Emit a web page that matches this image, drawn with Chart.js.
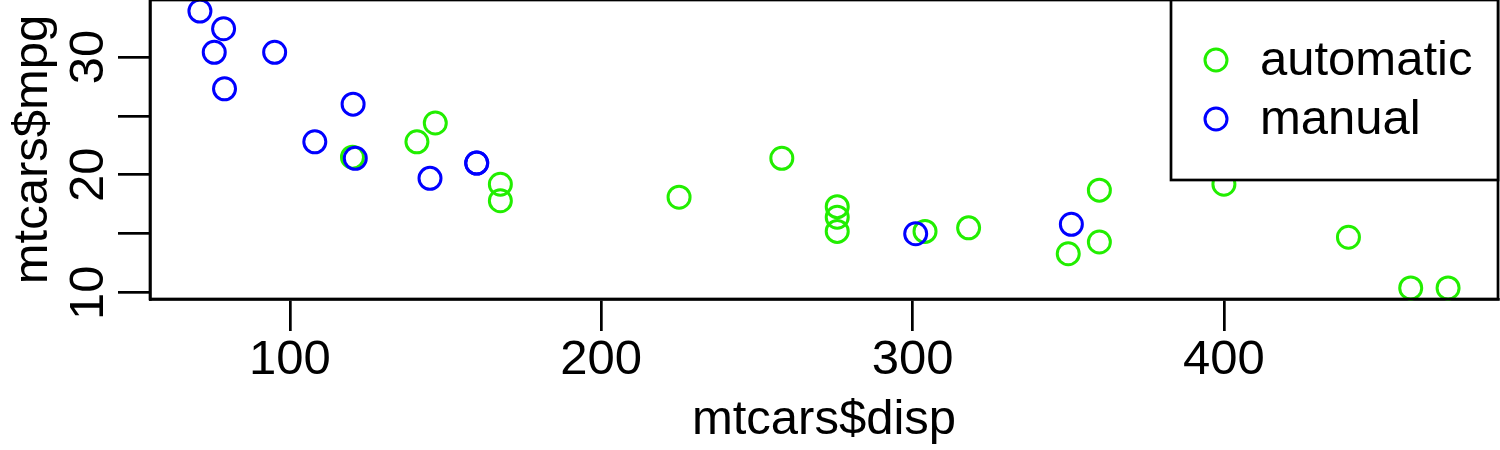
<!DOCTYPE html>
<html><head><meta charset="utf-8">
<script src="https://cdn.jsdelivr.net/npm/chart.js@4/dist/chart.umd.min.js"></script>
<style>html,body{margin:0;padding:0;background:#fff}canvas{display:block}</style>
</head><body>
<canvas id="c" width="1500" height="450"></canvas>
<script>
// ---- data (mtcars: disp vs mpg, split by transmission) ----
const seriesNames = ['automatic', 'manual'];
const autoDisp = [258, 360, 225, 360, 146.7, 140.8, 167.6, 167.6, 275.8, 275.8, 275.8, 472, 460, 440, 120.1, 318, 304, 350, 400];
const autoMpg  = [21.4, 18.7, 18.1, 14.3, 24.4, 22.8, 19.2, 17.8, 16.4, 17.3, 15.2, 10.4, 10.4, 14.7, 21.5, 15.5, 15.2, 13.3, 19.2];
const manDisp  = [160, 160, 108, 78.7, 75.7, 71.1, 79, 120.3, 95.1, 351, 145, 301, 121];
const manMpg   = [21, 21, 22.8, 32.4, 30.4, 33.9, 27.3, 26, 30.4, 15.8, 19.7, 15, 21.4];
const xTicks = [100, 200, 300, 400];
const yTicks = [10, 15, 20, 25, 30];
const yTickLabels = ['10', '', '20', '', '30'];
const xTitle = 'mtcars$disp';
const yTitle = 'mtcars$mpg';

// ---- styles ----
const GREEN = '#22ee00';
const BLUE = '#0000ff';
const FONT = {family: "'Liberation Sans', Arial, Helvetica, sans-serif", size: 49};
const LW = 2.7;
const PR = 11;
const PW = 3;

// R-style 4% axis extension
function extend(a, b) {
  const lo = Math.min(...a, ...b), hi = Math.max(...a, ...b), r = hi - lo;
  return [lo - 0.04 * r, hi + 0.04 * r];
}
const xLim = extend(autoDisp, manDisp);
const yLim = extend(autoMpg, manMpg);

const toPts = (xs, ys) => xs.map((x, i) => ({x: x, y: ys[i]}));

const boxPlugin = {
  id: 'rbox',
  afterDatasetsDraw(chart) {
    const {ctx, chartArea: a} = chart;
    ctx.save();
    ctx.strokeStyle = '#000';
    ctx.lineWidth = LW;
    ctx.strokeRect(a.left, a.top, a.right - a.left, a.bottom - a.top);
    ctx.restore();
  }
};

const legendPlugin = {
  id: 'rlegend',
  afterDatasetsDraw(chart) {
    const {ctx, chartArea: a} = chart;
    const right = a.right, top = a.top;
    const boxLeft = right - 327, boxBottom = top + 180;
    ctx.save();
    ctx.fillStyle = '#fff';
    ctx.fillRect(boxLeft, top, right - boxLeft, boxBottom - top);
    ctx.strokeStyle = '#000';
    ctx.lineWidth = LW;
    ctx.strokeRect(boxLeft, top, right - boxLeft, boxBottom - top);
    const rows = [top + 60, top + 119];
    chart.data.datasets.forEach((ds, i) => {
      const y = rows[i];
      ctx.beginPath();
      ctx.arc(right - 282, y, PR, 0, Math.PI * 2);
      ctx.strokeStyle = ds.borderColor;
      ctx.lineWidth = PW;
      ctx.stroke();
      ctx.fillStyle = '#000';
      ctx.font = FONT.size + 'px ' + FONT.family;
      ctx.textAlign = 'left';
      ctx.textBaseline = 'middle';
      ctx.fillText(ds.label, right - 238, y + 1.5);
    });
    ctx.restore();
  }
};

const gridOpts = {display: true, drawOnChartArea: false, drawTicks: true, tickLength: 32, tickWidth: LW, tickColor: '#000', color: '#000', lineWidth: LW};

new Chart(document.getElementById('c'), {
  type: 'scatter',
  data: {
    datasets: [
      {label: seriesNames[0], data: toPts(autoDisp, autoMpg), borderColor: GREEN, backgroundColor: 'rgba(0,0,0,0)',
       pointRadius: PR, pointBorderWidth: PW, pointHoverRadius: PR, order: 1, clip: false},
      {label: seriesNames[1], data: toPts(manDisp, manMpg), borderColor: BLUE, backgroundColor: 'rgba(0,0,0,0)',
       pointRadius: PR, pointBorderWidth: PW, pointHoverRadius: PR, order: 0, clip: false}
    ]
  },
  options: {
    responsive: false, animation: false, devicePixelRatio: 1,
    layout: {padding: {top: 0, right: 2, left: 0, bottom: 0}, autoPadding: false},
    plugins: {legend: {display: false}, tooltip: {enabled: false}},
    events: [],
    scales: {
      x: {
        type: 'linear', position: 'bottom', min: xLim[0], max: xLim[1],
        afterBuildTicks: s => { s.ticks = xTicks.map(v => ({value: v})); },
        afterFit: s => { s.height = 151; s.paddingLeft = 0; s.paddingRight = 0; },
        grid: gridOpts,
        border: {display: true, color: '#000', width: LW},
        ticks: {font: FONT, color: '#000', padding: 0, minRotation: 0, maxRotation: 0, autoSkip: false,
                callback: v => String(v)},
        title: {display: true, text: xTitle, font: FONT, color: '#000', padding: {top: 0, bottom: 0}}
      },
      y: {
        type: 'linear', position: 'left', min: yLim[0], max: yLim[1],
        afterBuildTicks: s => { s.ticks = yTicks.map(v => ({value: v})); },
        afterFit: s => { s.width = 150; s.paddingTop = 0; s.paddingBottom = 0; },
        grid: gridOpts,
        border: {display: true, color: '#000', width: LW},
        ticks: {font: FONT, color: '#000', padding: 1, minRotation: 90, maxRotation: 90, crossAlign: 'center', autoSkip: false,
                callback: v => { const k = yTicks.indexOf(v); return k >= 0 ? yTickLabels[k] : ''; }},
        title: {display: true, text: yTitle, font: FONT, color: '#000', padding: {top: 3.6, bottom: 0}}
      }
    }
  },
  plugins: [boxPlugin, legendPlugin]
});
</script>
</body></html>
